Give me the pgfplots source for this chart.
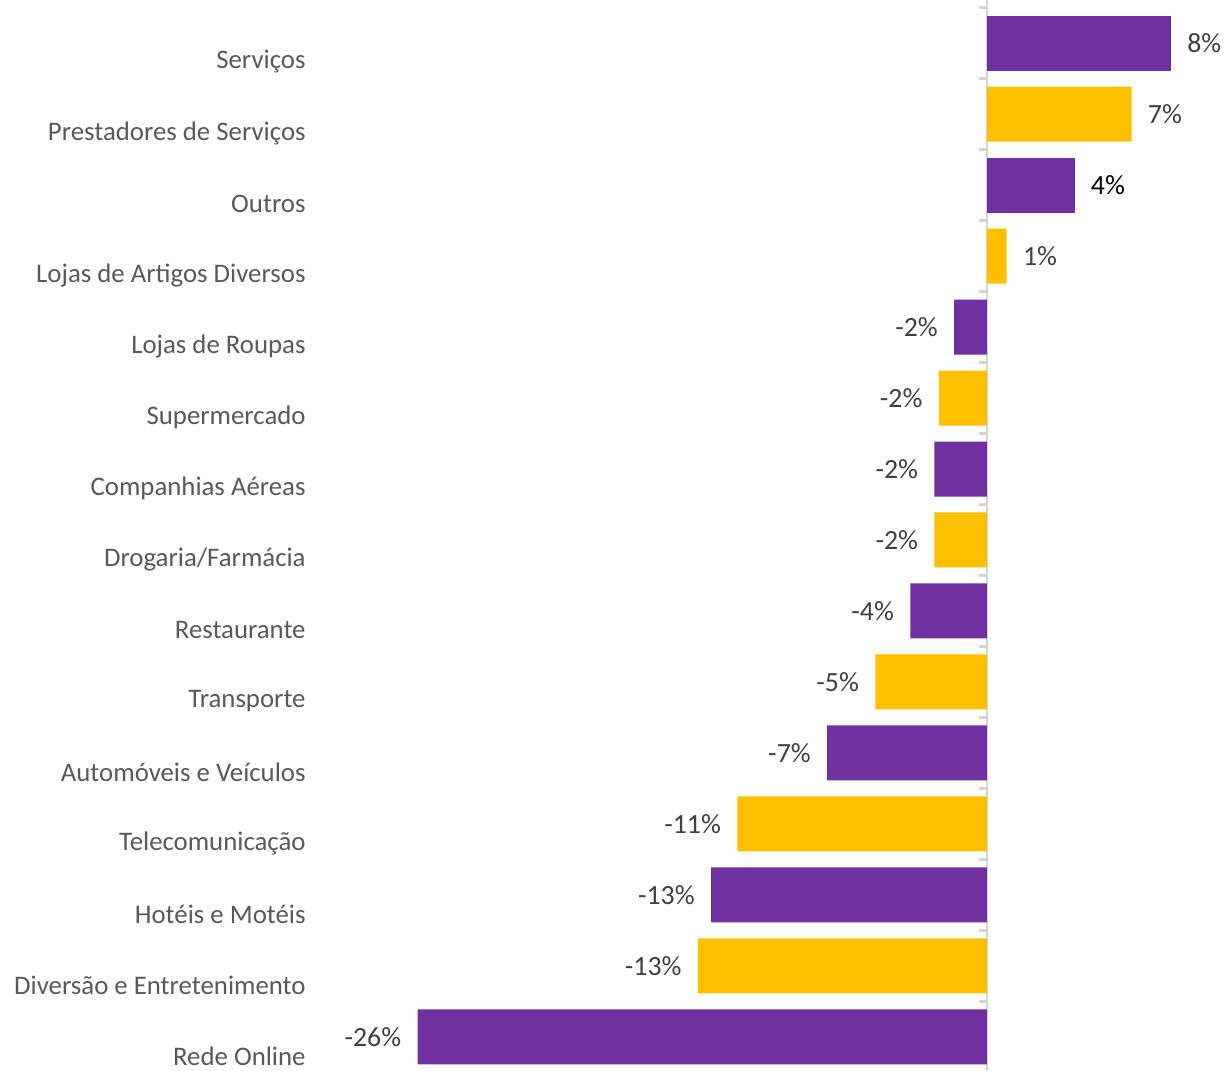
\documentclass[border=0pt]{standalone}
\usepackage{pgfplots}
\pgfplotsset{compat=1.18}
\usepackage{fontspec}
\setmainfont{Carlito}
\definecolor{purp}{HTML}{7030A0}
\definecolor{yel}{HTML}{FFC000}
\definecolor{lab}{HTML}{595959}
\definecolor{val}{HTML}{404040}
\begin{document}
\begin{tikzpicture}
\begin{axis}[
 scale only axis, width=612.5pt, height=535pt,
 xmin=-45.07, xmax=10.87, ymin=-0.465, ymax=14.606,
 axis x line=none, axis y line=center,
 axis line style={-, draw=black!17, line width=1.1pt},
 xtick=\empty,
 ytick={0,...,14},
 yticklabels={Rede Online, Diversão e Entretenimento, Hotéis e Motéis, Telecomunicação, Automóveis e Veículos, Transporte, Restaurante, Drogaria/Farmácia, Companhias Aéreas, Supermercado, Lojas de Roupas, Lojas de Artigos Diversos, Outros, Prestadores de Serviços, Serviços},
 major tick length=0pt,
 minor ytick={0.5,1.5,...,14.5},
 minor tick length=4pt,
 tick align=outside,
 minor tick style={draw=black!17, line width=1.1pt},
 yticklabel style={anchor=east, inner sep=0pt, xshift=-340.5pt, yshift=-9.5pt, font=\fontsize{13.4}{15}\selectfont, text=lab},
 xbar, bar width=27.5pt, bar shift=0pt,
 nodes near coords,
 point meta=explicit symbolic,
 every node near coord/.append style={font=\fontsize{13.9}{15}\selectfont, text=val, inner sep=0pt},
 pos/.style={every node near coord/.append style={anchor=west, xshift=8pt}},
 neg/.style={every node near coord/.append style={anchor=east, xshift=-8pt}},
 clip=false,
]
% purple, positive
\addplot[fill=purp, draw=none, pos] table[meta=lab] {
x y lab
8.4 14 8\%
};
\addplot[fill=purp, draw=none, pos, every node near coord/.append style={text=black}] table[meta=lab] {
x y lab
4.0 12 4\%
};
% purple, negative
\addplot[fill=purp, draw=none, neg] table[meta=lab] {
x y lab
-1.5 10 -2\%
-2.4 8 -2\%
-3.5 6 -4\%
-7.3 4 -7\%
-12.6 2 -13\%
-26.0 0 -26\%
};
% yellow, positive
\addplot[fill=yel, draw=none, pos] table[meta=lab] {
x y lab
6.6 13 7\%
0.9 11 1\%
};
% yellow, negative
\addplot[fill=yel, draw=none, neg] table[meta=lab] {
x y lab
-2.2 9 -2\%
-2.4 7 -2\%
-5.1 5 -5\%
-11.4 3 -11\%
-13.2 1 -13\%
};
\end{axis}
\pgfresetboundingbox
\path[use as bounding box] (current axis.south west) rectangle (current axis.north east);
\end{tikzpicture}
\end{document}
